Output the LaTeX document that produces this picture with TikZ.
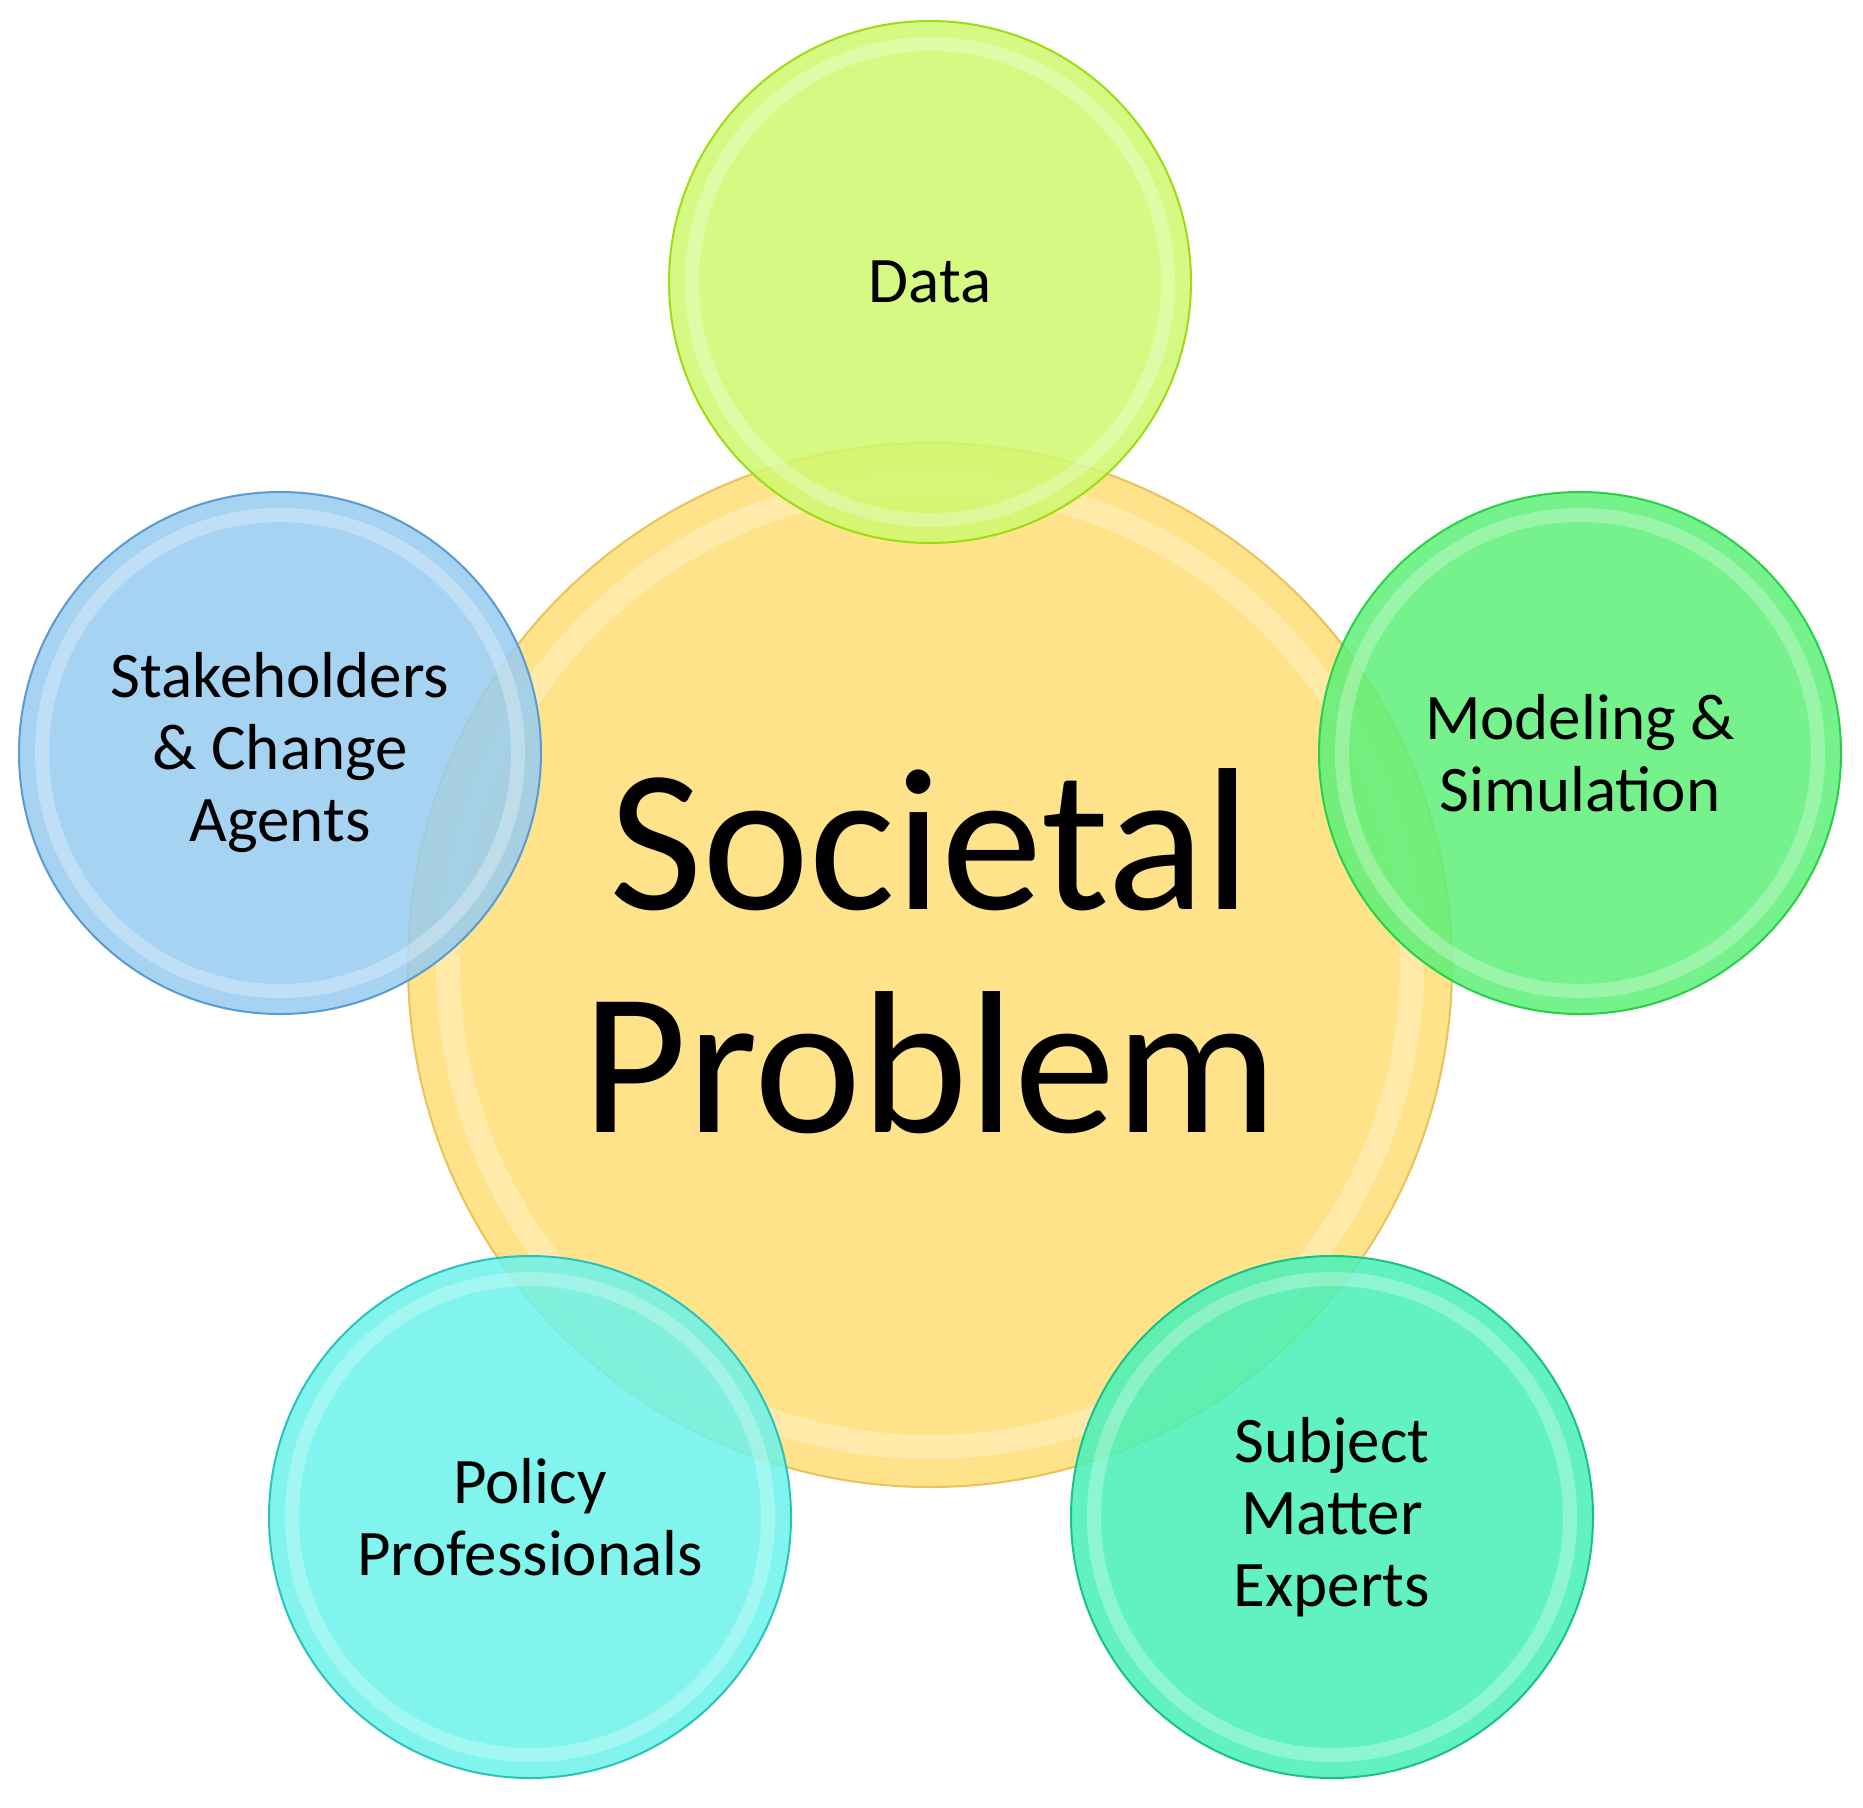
\documentclass[tikz,border=0pt]{standalone}
\usepackage{fontspec}
\setmainfont{Carlito}
\definecolor{cenfill}{HTML}{FFE38A}
\definecolor{cenline}{HTML}{EBC25A}
\definecolor{datfill}{HTML}{CFF870}
\definecolor{datline}{HTML}{9CDC10}
\definecolor{stkfill}{HTML}{98CCF0}
\definecolor{stkline}{HTML}{5A9AD0}
\definecolor{modfill}{HTML}{5EF078}
\definecolor{modline}{HTML}{28D048}
\definecolor{polfill}{HTML}{6CF2EA}
\definecolor{polline}{HTML}{28C4BC}
\definecolor{subfill}{HTML}{48F0B8}
\definecolor{subline}{HTML}{18C08C}
\tikzset{
  bubble/.style={circle, inner sep=0pt, minimum size=522pt, line width=2pt,
    fill opacity=0.86, text opacity=1, align=center,
    font=\fontsize{65}{72}\selectfont},
  bigbubble/.style={circle, inner sep=0pt, minimum size=1044pt, line width=2pt,
    align=center, font=\fontsize{203}{223}\selectfont},
  rim/.style={draw=white, line width=14pt, opacity=0.28}
}
\begin{document}
\begin{tikzpicture}[x=1pt,y=-1pt]
\useasboundingbox (0,0) rectangle (1863,1807);
\node[bigbubble, fill=cenfill, draw=cenline] (cen) at (930,965) {};
\node[font=\fontsize{203}{223}\selectfont, align=center] (cent) at (930,951) {Societal\\Problem};
\draw[rim, line width=24pt] (cen.center) circle (482pt);
\node[bubble, fill=datfill, draw=datline] (dat) at (930,282) {Data};
\draw[rim] (dat.center) circle (238pt);
\node[bubble, fill=stkfill, draw=stkline] (stk) at (280,753) {Stakeholders\\\& Change\\Agents};
\draw[rim] (stk.center) circle (238pt);
\node[bubble, fill=modfill, draw=modline] (mod) at (1580,753) {Modeling \&\\Simulation};
\draw[rim] (mod.center) circle (238pt);
\node[bubble, fill=polfill, draw=polline] (pol) at (530,1517) {Policy\\Professionals};
\draw[rim] (pol.center) circle (238pt);
\node[bubble, fill=subfill, draw=subline] (sub) at (1332,1517) {Subject\\Matter\\Experts};
\draw[rim] (sub.center) circle (238pt);
\end{tikzpicture}
\end{document}
